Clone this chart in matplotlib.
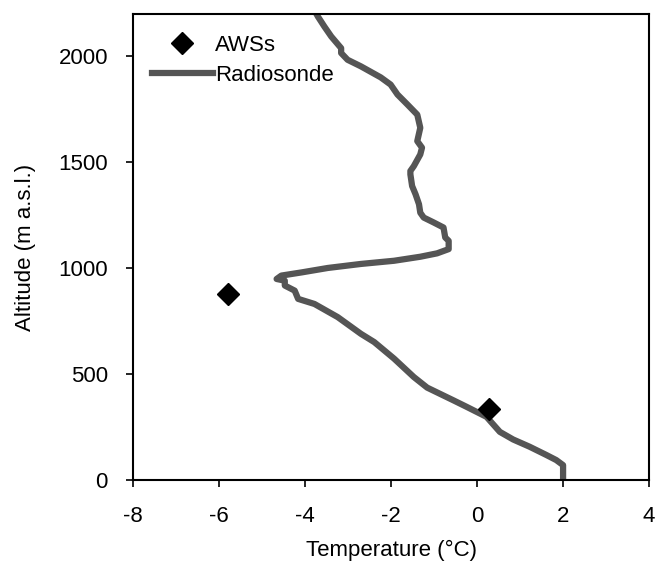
import numpy as np
import matplotlib
matplotlib.use("Agg")
import matplotlib.pyplot as plt

plt.rcParams['font.family'] = ['Liberation Sans', 'DejaVu Sans']
plt.rcParams['axes.unicode_minus'] = False

# Radiosonde profile (temperature in degC, altitude in m a.s.l.)
sonde_temp = [2.0, 2.0, 2.0, 1.84, 1.61, 1.22, 0.84, 0.53, 0.22, -0.24, -0.55,
              -1.16, -1.47, -1.93, -2.39, -2.70, -3.24, -3.78, -4.16, -4.24,
              -4.47, -4.47, -4.66, -4.55, -4.08, -3.47, -2.70, -1.93, -1.32,
              -0.93, -0.66, -0.66, -0.74, -0.78, -1.01, -1.24, -1.32, -1.35,
              -1.43, -1.51, -1.55, -1.55, -1.47, -1.32, -1.28, -1.39, -1.32,
              -1.39, -1.62, -1.85, -2.01, -2.24, -2.70, -3.01, -3.16, -3.16,
              -3.39, -3.55, -3.70, -3.76]
sonde_alt = [0, 15, 70, 94, 118, 157, 191, 227, 298, 345, 376,
             436, 486, 573, 651, 690, 769, 831, 855, 894,
             918, 941, 949, 965, 980, 1001, 1020, 1035, 1054,
             1070, 1090, 1129, 1145, 1192, 1216, 1239, 1262, 1302,
             1349, 1388, 1443, 1459, 1482, 1537, 1569, 1600, 1663,
             1725, 1773, 1820, 1867, 1901, 1953, 1984, 2016, 2039,
             2094, 2141, 2188, 2210]

# Automatic weather stations
aws_temp = [-5.78, 0.28]
aws_alt = [880, 335]

x_ticks = [-8, -6, -4, -2, 0, 2, 4]
y_ticks = [0, 500, 1000, 1500, 2000]

fig = plt.figure(figsize=(6.55, 5.62), dpi=100)
ax = fig.add_axes([0.203, 0.146, 0.788, 0.829])

ax.plot(aws_temp, aws_alt, linestyle='none', marker='D', color='black',
        markersize=11, label='AWSs', zorder=3)
ax.plot(sonde_temp, sonde_alt, color='#555555', linewidth=4.5,
        label='Radiosonde', zorder=2)

ax.set_xlim(-8, 4)
ax.set_ylim(0, 2200)
ax.set_xticks(x_ticks)
ax.set_yticks(y_ticks)
ax.tick_params(direction='out', length=5, width=1.2, labelsize=16,
               colors='black')
ax.tick_params(axis='x', pad=14)
ax.tick_params(axis='y', pad=13)
for s in ax.spines.values():
    s.set_linewidth(1.5)

ax.set_xlabel('Temperature (°C)', fontsize=16, labelpad=9)
ax.set_ylabel('Altitude (m a.s.l.)', fontsize=16, labelpad=16)

ax.legend(loc='upper left', frameon=False, fontsize=16, handlelength=2.75,
          handletextpad=0.1, borderpad=0, borderaxespad=0, labelspacing=0.4,
          bbox_to_anchor=(0.036, 0.955))

fig.savefig('out.png', dpi=100)
